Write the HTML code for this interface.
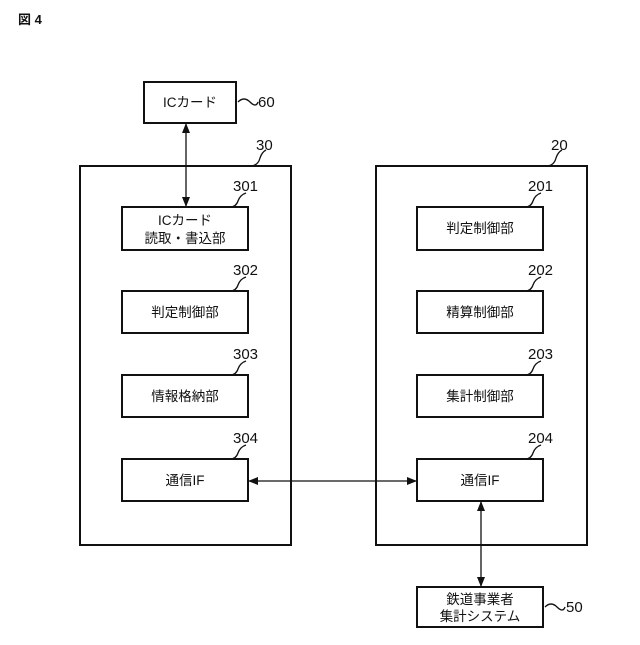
<!DOCTYPE html><html><head><meta charset="utf-8"><style>body{margin:0;background:#fff}svg text{font-family:"Liberation Sans","Noto Sans CJK JP",sans-serif;fill:#111}</style></head><body>
<svg width="640" height="640" xmlns="http://www.w3.org/2000/svg">
<defs><marker id="a" markerWidth="10" markerHeight="8" refX="9" refY="4" orient="auto-start-reverse" markerUnits="userSpaceOnUse"><path d="M0,0 L10,4 L0,8 z" fill="#111"/></marker></defs>
<text x="18" y="24" font-size="13" font-weight="bold">図 4</text>
<g fill="none" stroke="#111" stroke-width="2">
<rect x="144" y="82" width="92" height="41"/>
<rect x="80" y="166" width="211" height="379"/>
<rect x="376" y="166" width="211" height="379"/>
<rect x="122" y="207" width="126" height="43"/>
<rect x="122" y="291" width="126" height="42"/>
<rect x="122" y="375" width="126" height="42"/>
<rect x="122" y="459" width="126" height="42"/>
<rect x="417" y="207" width="126" height="43"/>
<rect x="417" y="291" width="126" height="42"/>
<rect x="417" y="375" width="126" height="42"/>
<rect x="417" y="459" width="126" height="42"/>
<rect x="417" y="587" width="126" height="40"/>
</g>
<g stroke="#111" stroke-width="1.3" fill="none">
<line x1="186" y1="124" x2="186" y2="206" marker-start="url(#a)" marker-end="url(#a)"/>
<line x1="249" y1="481" x2="416" y2="481" marker-start="url(#a)" marker-end="url(#a)"/>
<line x1="481" y1="502" x2="481" y2="586" marker-start="url(#a)" marker-end="url(#a)"/>
<path d="M238,102 q6,-6 12,0 t8,0"/>
<path d="M545,607 q6,-6 12,0 t8,0"/>
<path d="M250,166 q8,0 10,-8 q2,-6 6,-8"/>
<path d="M546,166 q8,0 10,-8 q2,-6 6,-8"/>
<path d="M230,207 q6,0 8,-6 q2,-6 8,-8"/>
<path d="M230,291 q6,0 8,-6 q2,-6 8,-8"/>
<path d="M230,375 q6,0 8,-6 q2,-6 8,-8"/>
<path d="M230,459 q6,0 8,-6 q2,-6 8,-8"/>
<path d="M525,207 q6,0 8,-6 q2,-6 8,-8"/>
<path d="M525,291 q6,0 8,-6 q2,-6 8,-8"/>
<path d="M525,375 q6,0 8,-6 q2,-6 8,-8"/>
<path d="M525,459 q6,0 8,-6 q2,-6 8,-8"/>
</g>
<g font-size="15">
<text x="258" y="107">60</text><text x="566" y="612">50</text>
<text x="256" y="150">30</text><text x="551" y="150">20</text>
<text x="233" y="191">301</text><text x="233" y="275">302</text><text x="233" y="359">303</text><text x="233" y="443">304</text>
<text x="528" y="191">201</text><text x="528" y="275">202</text><text x="528" y="359">203</text><text x="528" y="443">204</text>
</g>
<g font-size="13.5" text-anchor="middle">
<text x="190" y="107">ICカード</text>
<text x="185" y="225">ICカード</text><text x="185" y="243">読取・書込部</text>
<text x="185" y="317">判定制御部</text>
<text x="185" y="401">情報格納部</text>
<text x="185" y="485">通信IF</text>
<text x="480" y="233">判定制御部</text>
<text x="480" y="317">精算制御部</text>
<text x="480" y="401">集計制御部</text>
<text x="480" y="485">通信IF</text>
<text x="480" y="604">鉄道事業者</text><text x="480" y="621">集計システム</text>
</g>
</svg></body></html>
